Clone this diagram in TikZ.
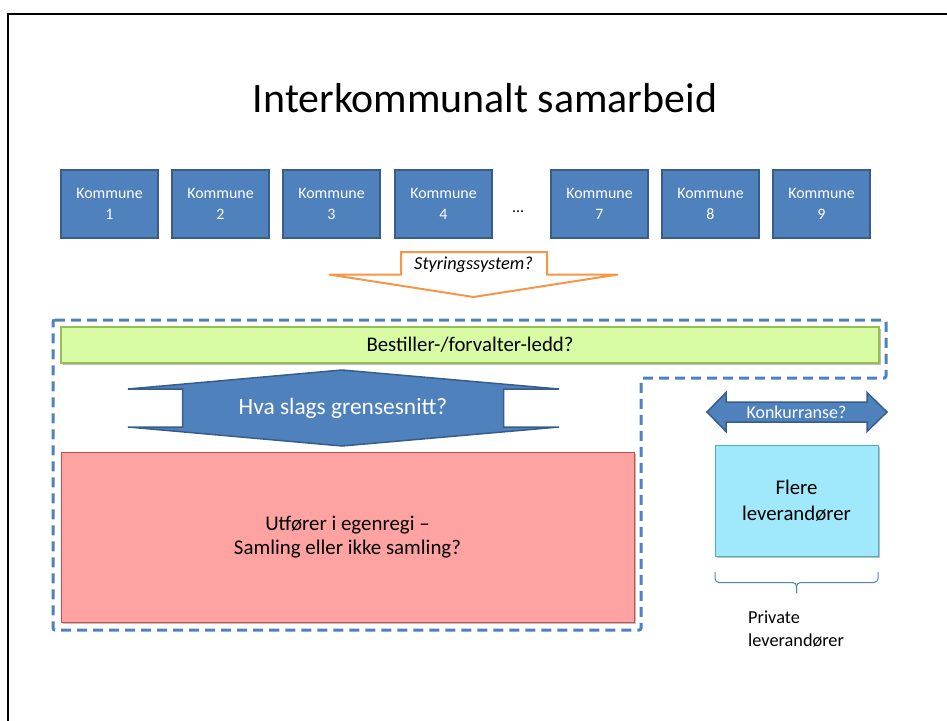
\documentclass[tikz,border=0pt]{standalone}
\usepackage{fontspec}
\setmainfont{Carlito}
\usetikzlibrary{shadows}
\definecolor{kblue}{RGB}{79,129,189}
\definecolor{kblueD}{RGB}{56,93,138}
\definecolor{korange}{RGB}{247,150,70}
\definecolor{kgreen}{RGB}{216,252,164}
\definecolor{kgreenD}{RGB}{155,187,89}
\definecolor{kred}{RGB}{255,162,162}
\definecolor{kredD}{RGB}{192,80,77}
\definecolor{kcyan}{RGB}{160,233,252}
\definecolor{kcyanD}{RGB}{75,172,198}
\newcommand\fsz[2]{\fontsize{#1}{#2}\selectfont}
\begin{document}
\begin{tikzpicture}[x=1pt,y=-1pt,
  kommune/.style={draw=kblueD, line width=1.8pt, fill=kblue, minimum width=97pt,
    minimum height=68pt, inner sep=0pt, text=white, align=center, font=\fsz{15.9}{20.5}},
  shade box/.style={drop shadow={shadow xshift=1.5pt,shadow yshift=-1.5pt,opacity=0.25,fill=black}},
  blueshape/.style={fill=kblue, draw=kblueD, line width=1.5pt, line join=miter},
  dashregion/.style={draw=kblue, line width=3pt, dash pattern=on 10pt off 6pt, rounded corners=2pt},
  lbl/.style={inner sep=0pt, align=center}
]
\useasboundingbox (0,0) rectangle (947,720);
% slide frame
\draw[line width=2.5pt] (8,722) -- (8,14) -- (949,14);
% title
\node[lbl, anchor=base, font=\fsz{41.9}{50}] (title) at (485,112) {Interkommunalt samarbeid};
% kommune boxes
\node[kommune] (k1) at (109.5,204) {Kommune\\1};
\node[kommune] (k2) at (220.5,204) {Kommune\\2};
\node[kommune] (k3) at (331.5,204) {Kommune\\3};
\node[kommune] (k4) at (443.5,204) {Kommune\\4};
\node[lbl, anchor=base, font=\fsz{15.9}{20}] (dots) at (518,212) {\dots};
\node[kommune] (k7) at (599.5,204) {Kommune\\7};
\node[kommune] (k8) at (710.5,204) {Kommune\\8};
\node[kommune] (k9) at (821.5,204) {Kommune\\9};
% orange down arrow
\draw[korange, fill=white, line width=2pt, line join=miter]
  (401,252) -- (547,252) -- (547,274.5) -- (618,274.5) -- (473.5,297)
  -- (329,274.5) -- (401,274.5) -- cycle;
\node[lbl, font=\fsz{18.3}{22}\itshape] (styr) at (473.5,264.5) {Styringssystem?};
% dashed region
\draw[dashregion] (53,320) -- (886,320) -- (886,378) -- (641,378) -- (641,630) -- (53,630) -- cycle;
% green bar
\node[shade box, draw=kgreenD, line width=1.2pt, fill=kgreen, minimum width=818pt,
  minimum height=36pt, inner sep=0pt, font=\fsz{20.8}{25}] (best) at (470,345) {Bestiller-/forvalter-ledd?};
% vertical double arrow
\draw[blueshape] (342,370) -- (559,389) -- (503.5,389) -- (503.5,427) -- (559,427)
  -- (342,446) -- (128,427) -- (182.5,427) -- (182.5,389) -- (128,389) -- cycle;
\node[lbl, text=white, font=\fsz{23.4}{28}] (hva) at (343,408) {Hva slags grensesnitt?};
% red box
\node[shade box, draw=kredD, line width=1pt, fill=kred, minimum width=573pt,
  minimum height=170pt, inner sep=0pt, align=center, font=\fsz{20.9}{24}] (utf) at (347.5,537)
  {Utfører i egenregi –\\Samling eller ikke samling?};
% konkurranse arrow
\draw[blueshape] (707,412) -- (726,392.5) -- (726,402) -- (867,402) -- (867,392.5)
  -- (887,412) -- (867,431.5) -- (867,422) -- (726,422) -- (726,431.5) -- cycle;
\node[lbl, text=white, font=\fsz{18}{22}] (konk) at (796.5,412) {Konkurranse?};
% cyan box
\node[shade box, draw=kcyanD, line width=1pt, fill=kcyan, minimum width=163pt,
  minimum height=111pt, inner sep=0pt, align=center, font=\fsz{20.8}{26}] (flere) at (796.5,500.5)
  {Flere\\leverandører};
% brace
\coordinate (bl) at (715,572);
\coordinate (br) at (878,572);
\coordinate (bm) at (796.5,593);
\draw[kblue, line width=1pt, rounded corners=4pt]
  (bl) -- (715,582.5) -- (796.5,582.5) -- (bm);
\draw[kblue, line width=1pt, rounded corners=4pt]
  (br) -- (878,582.5) -- (796.5,582.5) -- (bm);
% private
\node[lbl, align=left, anchor=west, font=\fsz{18.3}{23.5}] (priv) at (748,629)
  {Private\\leverandører};
\end{tikzpicture}
\end{document}
